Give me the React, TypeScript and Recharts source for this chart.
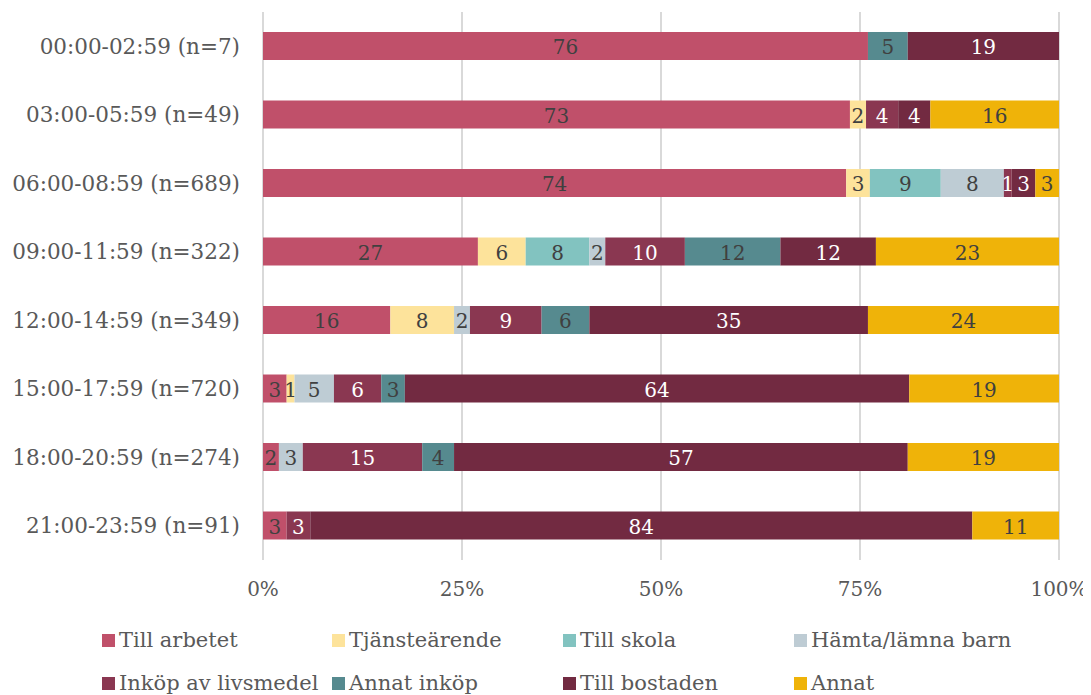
import React from "react";
import { BarChart, Bar, XAxis, YAxis, CartesianGrid, LabelList } from "recharts";

const categories = [
  "00:00-02:59 (n=7)",
  "03:00-05:59 (n=49)",
  "06:00-08:59 (n=689)",
  "09:00-11:59 (n=322)",
  "12:00-14:59 (n=349)",
  "15:00-17:59 (n=720)",
  "18:00-20:59 (n=274)",
  "21:00-23:59 (n=91)",
];

const tillArbetet = [76, 73, 74, 27, 16, 3, 2, 3];
const tjanstearende = [0, 2, 3, 6, 8, 1, 0, 0];
const tillSkola = [0, 0, 9, 8, 0, 0, 0, 0];
const hamtaLamnaBarn = [0, 0, 8, 2, 2, 5, 3, 0];
const inkopLivsmedel = [0, 4, 1, 10, 9, 6, 15, 3];
const annatInkop = [5, 0, 0, 12, 6, 3, 4, 0];
const tillBostaden = [19, 4, 3, 12, 35, 64, 57, 84];
const annat = [0, 16, 3, 23, 24, 19, 19, 11];

const xTicks = [0, 0.25, 0.5, 0.75, 1];

const series = [
  { key: "tillArbetet", name: "Till arbetet", values: tillArbetet, color: "#C0506A", text: "#404040" },
  { key: "tjanstearende", name: "Tjänsteärende", values: tjanstearende, color: "#FDE39B", text: "#404040" },
  { key: "tillSkola", name: "Till skola", values: tillSkola, color: "#82C3C0", text: "#404040" },
  { key: "hamta", name: "Hämta/lämna barn", values: hamtaLamnaBarn, color: "#BECCD4", text: "#404040" },
  { key: "inkop", name: "Inköp av livsmedel", values: inkopLivsmedel, color: "#8A3751", text: "#FFFFFF" },
  { key: "annatInkop", name: "Annat inköp", values: annatInkop, color: "#568A8F", text: "#404040" },
  { key: "tillBostaden", name: "Till bostaden", values: tillBostaden, color: "#722A41", text: "#FFFFFF" },
  { key: "annat", name: "Annat", values: annat, color: "#EFB309", text: "#404040" },
];

const data = categories.map((name, i) => {
  const row: Record<string, string | number> = { name };
  series.forEach((s) => {
    row[s.key] = s.values[i];
  });
  return row;
});

const FONT = "'DejaVu Serif', Georgia, serif";

const makeLabel = (fill: string) => (props: any) => {
  const { x, y, width, height, value } = props;
  if (!value) return null;
  return (
    <text
      x={Number(x) + Number(width) / 2}
      y={Number(y) + Number(height) / 2 + 1}
      textAnchor="middle"
      dominantBaseline="central"
      fill={fill}
      fontSize={20}
      fontFamily={FONT}
    >
      {value}
    </text>
  );
};

const legendCols = [102, 332, 563, 794];
const legendRows = [640, 683];

export default function App() {
  return (
    <div style={{ position: "relative", width: 1091, height: 695, margin: "-8px 0 0 -8px", background: "#fff" }}>
      <BarChart
        width={1091}
        height={695}
        data={data}
        layout="vertical"
        stackOffset="expand"
        margin={{ top: 12, right: 32, bottom: 105, left: 0 }}
      >
        <CartesianGrid horizontal={false} stroke="#D9D9D9" strokeWidth={2} />
        <XAxis
          type="number"
          domain={[0, 1]}
          ticks={xTicks}
          tickFormatter={(v: number) => `${Math.round(v * 100)}%`}
          axisLine={false}
          tickLine={false}
          tickSize={0}
          tickMargin={22}
          tick={{ fill: "#595959", fontSize: 20, fontFamily: FONT }}
          height={30}
        />
        <YAxis
          type="category"
          dataKey="name"
          width={263}
          axisLine={false}
          tickLine={false}
          tickSize={0}
          tickMargin={23}
          tick={{ fill: "#595959", fontSize: 21.5, fontFamily: FONT }}
        />
        {series.map((s) => (
          <Bar
            key={s.key}
            dataKey={s.key}
            name={s.name}
            stackId="a"
            fill={s.color}
            barSize={28}
            isAnimationActive={false}
          >
            <LabelList dataKey={s.key} content={makeLabel(s.text)} />
          </Bar>
        ))}
      </BarChart>
      {series.map((s, i) => {
        const col = legendCols[i % 4];
        const row = legendRows[Math.floor(i / 4)];
        return (
          <div
            key={s.key}
            style={{
              position: "absolute",
              left: col,
              top: row - 14,
              height: 28,
              display: "flex",
              alignItems: "center",
              whiteSpace: "nowrap",
              fontFamily: FONT,
              fontSize: 21,
              color: "#595959",
            }}
          >
            <span style={{ display: "inline-block", width: 13, height: 13, background: s.color, marginRight: 4 }} />
            <span>{s.name}</span>
          </div>
        );
      })}
    </div>
  );
}
